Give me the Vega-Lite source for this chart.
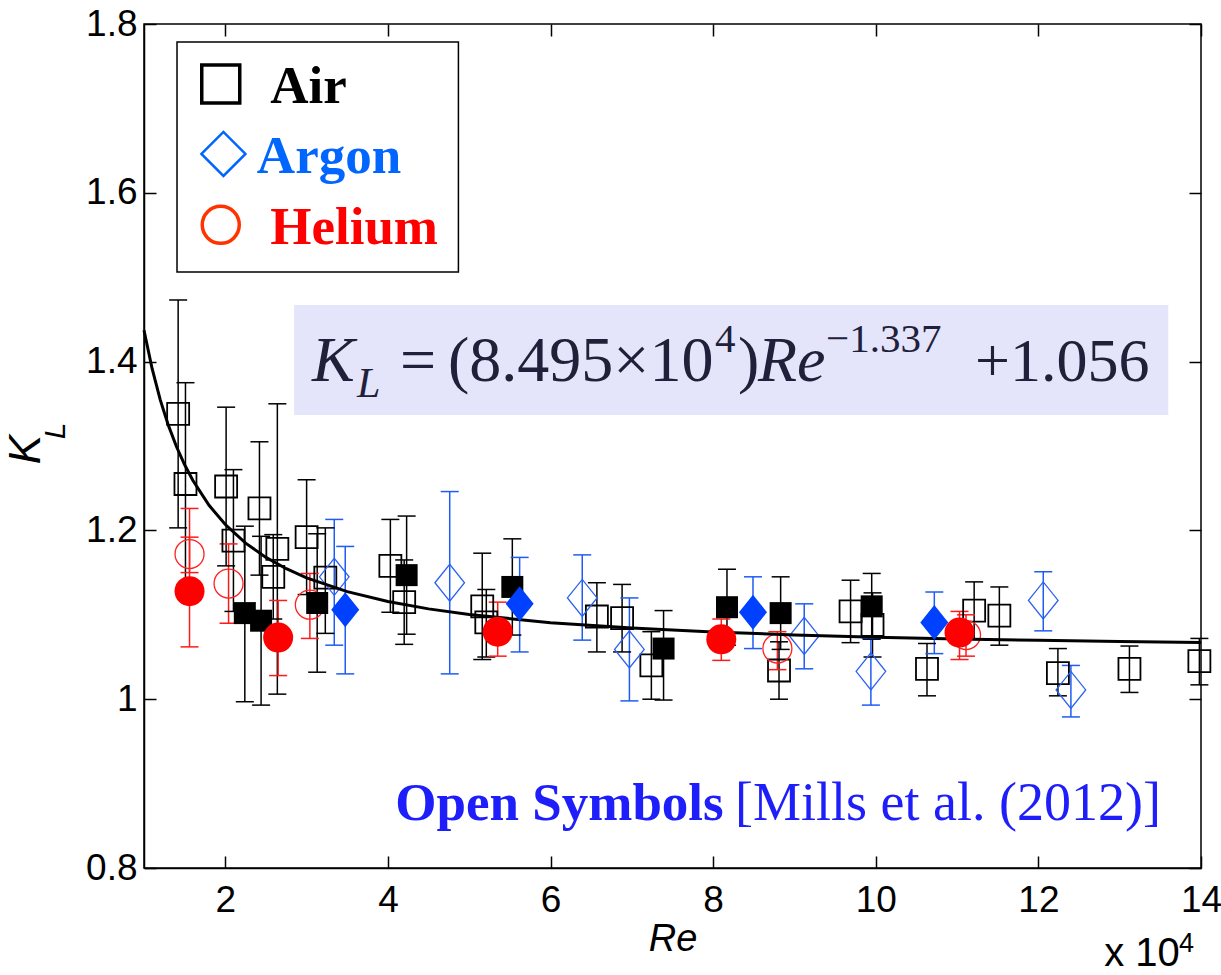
{
  "$schema": "https://vega.github.io/schema/vega-lite/v6.json",
  "autosize": {"type": "none"},
  "padding": {"left": 144, "top": 24, "right": 20, "bottom": 107},
  "width": 1057,
  "height": 844,
  "background": "white",
  "config": {
    "view": {"stroke": "black", "strokeWidth": 1.5},
    "axis": {
      "grid": false,
      "domainColor": "black",
      "domainWidth": 1.5,
      "tickColor": "black",
      "tickWidth": 1.5,
      "tickSize": -12,
      "labelFont": "Liberation Sans",
      "labelFontSize": 37,
      "labelColor": "black",
      "labelFlush": false,
      "labelOverlap": false
    }
  },
  "datasets": {
    "pts": [
      {"gas": "Air", "src": "open", "Re": 1.42, "KL": 1.338, "lo": 1.203, "hi": 1.473},
      {"gas": "Air", "src": "open", "Re": 1.51, "KL": 1.255, "lo": 1.135, "hi": 1.375},
      {"gas": "Air", "src": "open", "Re": 2.01, "KL": 1.252, "lo": 1.158, "hi": 1.346},
      {"gas": "Air", "src": "open", "Re": 2.10, "KL": 1.188, "lo": 1.104, "hi": 1.272},
      {"gas": "Air", "src": "open", "Re": 2.42, "KL": 1.226, "lo": 1.147, "hi": 1.305},
      {"gas": "Air", "src": "open", "Re": 2.64, "KL": 1.178, "lo": 1.006, "hi": 1.350},
      {"gas": "Air", "src": "open", "Re": 2.59, "KL": 1.145, "lo": 1.095, "hi": 1.195},
      {"gas": "Air", "src": "open", "Re": 3.00, "KL": 1.192, "lo": 1.124, "hi": 1.260},
      {"gas": "Air", "src": "open", "Re": 3.23, "KL": 1.144, "lo": 1.078, "hi": 1.203},
      {"gas": "Air", "src": "open", "Re": 4.03, "KL": 1.158, "lo": 1.103, "hi": 1.213},
      {"gas": "Air", "src": "open", "Re": 4.20, "KL": 1.115, "lo": 1.065, "hi": 1.165},
      {"gas": "Air", "src": "open", "Re": 5.16, "KL": 1.110, "lo": 1.047, "hi": 1.173},
      {"gas": "Air", "src": "open", "Re": 5.21, "KL": 1.091, "lo": 1.050, "hi": 1.130},
      {"gas": "Air", "src": "open", "Re": 6.57, "KL": 1.098, "lo": 1.056, "hi": 1.138},
      {"gas": "Air", "src": "open", "Re": 6.88, "KL": 1.096, "lo": 1.056, "hi": 1.136},
      {"gas": "Air", "src": "open", "Re": 7.24, "KL": 1.040, "lo": 1.000, "hi": 1.080},
      {"gas": "Air", "src": "open", "Re": 8.81, "KL": 1.034, "lo": 1.000, "hi": 1.068},
      {"gas": "Air", "src": "open", "Re": 9.69, "KL": 1.104, "lo": 1.067, "hi": 1.141},
      {"gas": "Air", "src": "open", "Re": 9.96, "KL": 1.088, "lo": 1.050, "hi": 1.126},
      {"gas": "Air", "src": "open", "Re": 10.63, "KL": 1.036, "lo": 1.004, "hi": 1.066},
      {"gas": "Air", "src": "open", "Re": 11.21, "KL": 1.105, "lo": 1.071, "hi": 1.139},
      {"gas": "Air", "src": "open", "Re": 11.52, "KL": 1.099, "lo": 1.064, "hi": 1.133},
      {"gas": "Air", "src": "open", "Re": 12.24, "KL": 1.031, "lo": 1.004, "hi": 1.060},
      {"gas": "Air", "src": "open", "Re": 13.12, "KL": 1.036, "lo": 1.008, "hi": 1.063},
      {"gas": "Air", "src": "open", "Re": 13.98, "KL": 1.045, "lo": 1.017, "hi": 1.072},
      {"gas": "Air", "src": "filled", "Re": 2.24, "KL": 1.102, "lo": 0.997, "hi": 1.205},
      {"gas": "Air", "src": "filled", "Re": 2.44, "KL": 1.093, "lo": 0.993, "hi": 1.193},
      {"gas": "Air", "src": "filled", "Re": 3.13, "KL": 1.114, "lo": 1.032, "hi": 1.196},
      {"gas": "Air", "src": "filled", "Re": 4.23, "KL": 1.147, "lo": 1.077, "hi": 1.217},
      {"gas": "Air", "src": "filled", "Re": 5.53, "KL": 1.133, "lo": 1.076, "hi": 1.190},
      {"gas": "Air", "src": "filled", "Re": 7.39, "KL": 1.060, "lo": 0.999, "hi": 1.105},
      {"gas": "Air", "src": "filled", "Re": 8.17, "KL": 1.109, "lo": 1.064, "hi": 1.154},
      {"gas": "Air", "src": "filled", "Re": 8.83, "KL": 1.102, "lo": 1.059, "hi": 1.145},
      {"gas": "Air", "src": "filled", "Re": 9.95, "KL": 1.110, "lo": 1.071, "hi": 1.149},
      {"gas": "Argon", "src": "open", "Re": 3.34, "KL": 1.145, "lo": 1.064, "hi": 1.213},
      {"gas": "Argon", "src": "open", "Re": 4.76, "KL": 1.138, "lo": 1.030, "hi": 1.246},
      {"gas": "Argon", "src": "open", "Re": 6.39, "KL": 1.120, "lo": 1.070, "hi": 1.171},
      {"gas": "Argon", "src": "open", "Re": 6.97, "KL": 1.059, "lo": 0.998, "hi": 1.120},
      {"gas": "Argon", "src": "open", "Re": 9.12, "KL": 1.075, "lo": 1.036, "hi": 1.113},
      {"gas": "Argon", "src": "open", "Re": 9.94, "KL": 1.033, "lo": 0.993, "hi": 1.072},
      {"gas": "Argon", "src": "open", "Re": 12.06, "KL": 1.117, "lo": 1.081, "hi": 1.151},
      {"gas": "Argon", "src": "open", "Re": 12.40, "KL": 1.011, "lo": 0.979, "hi": 1.040},
      {"gas": "Argon", "src": "filled", "Re": 3.475, "KL": 1.106, "lo": 1.030, "hi": 1.181},
      {"gas": "Argon", "src": "filled", "Re": 5.62, "KL": 1.113, "lo": 1.056, "hi": 1.168},
      {"gas": "Argon", "src": "filled", "Re": 8.49, "KL": 1.103, "lo": 1.060, "hi": 1.145},
      {"gas": "Argon", "src": "filled", "Re": 10.72, "KL": 1.091, "lo": 1.054, "hi": 1.127},
      {"gas": "Helium", "src": "open", "Re": 1.56, "KL": 1.172, "lo": 1.150, "hi": 1.192},
      {"gas": "Helium", "src": "open", "Re": 2.04, "KL": 1.137, "lo": 1.090, "hi": 1.184},
      {"gas": "Helium", "src": "open", "Re": 3.04, "KL": 1.112, "lo": 1.072, "hi": 1.149},
      {"gas": "Helium", "src": "open", "Re": 8.79, "KL": 1.060, "lo": 1.035, "hi": 1.080},
      {"gas": "Helium", "src": "open", "Re": 11.11, "KL": 1.076, "lo": 1.051, "hi": 1.100},
      {"gas": "Helium", "src": "filled", "Re": 1.56, "KL": 1.128, "lo": 1.062, "hi": 1.226},
      {"gas": "Helium", "src": "filled", "Re": 2.65, "KL": 1.073, "lo": 1.028, "hi": 1.117},
      {"gas": "Helium", "src": "filled", "Re": 5.35, "KL": 1.080, "lo": 1.051, "hi": 1.115},
      {"gas": "Helium", "src": "filled", "Re": 8.10, "KL": 1.071, "lo": 1.046, "hi": 1.095},
      {"gas": "Helium", "src": "filled", "Re": 11.03, "KL": 1.079, "lo": 1.047, "hi": 1.104}
    ],
    "curve": [
      {"Re": 1, "KL": 1.4372}, {"Re": 1.1, "KL": 1.3916}, {"Re": 1.2, "KL": 1.3547},
      {"Re": 1.3, "KL": 1.3244}, {"Re": 1.4, "KL": 1.2991}, {"Re": 1.5, "KL": 1.2777},
      {"Re": 1.6, "KL": 1.2594}, {"Re": 1.8, "KL": 1.2297}, {"Re": 2, "KL": 1.2069},
      {"Re": 2.25, "KL": 1.1849}, {"Re": 2.5, "KL": 1.1680}, {"Re": 2.75, "KL": 1.1546},
      {"Re": 3, "KL": 1.1438}, {"Re": 3.5, "KL": 1.1274}, {"Re": 4, "KL": 1.1157},
      {"Re": 4.5, "KL": 1.1070}, {"Re": 5, "KL": 1.1003}, {"Re": 6, "KL": 1.0907},
      {"Re": 7, "KL": 1.0843}, {"Re": 8, "KL": 1.0796}, {"Re": 9, "KL": 1.0762},
      {"Re": 10, "KL": 1.0735}, {"Re": 11, "KL": 1.0714}, {"Re": 12, "KL": 1.0697},
      {"Re": 13, "KL": 1.0684}, {"Re": 14, "KL": 1.0672}
    ]
  },
  "layer": [
    {
      "encoding": {
        "x": {"field": "Re", "type": "quantitative", "scale": {"domain": [1, 14], "nice": false, "zero": false},
          "axis": {"values": [2, 4, 6, 8, 10, 12, 14], "format": "~g", "title": "Re", "titleFont": "Liberation Sans", "titleFontStyle": "italic", "titleFontWeight": "normal", "titleFontSize": 38, "titleColor": "black", "titlePadding": 2, "labelPadding": 26}},
        "y": {"field": "KL", "type": "quantitative", "scale": {"domain": [0.8, 1.8], "nice": false, "zero": false},
          "axis": {"values": [0.8, 1, 1.2, 1.4, 1.6, 1.8], "format": "~g", "title": "K", "titleFont": "Liberation Sans", "titleFontStyle": "italic", "titleFontWeight": "normal", "titleFontSize": 44, "titleColor": "black", "titleAngle": 270, "titleAlign": "center", "titleBaseline": "middle", "titleX": -118, "titleY": 425, "labelPadding": 19}}
      },
      "layer": [
        {
          "data": {"values": [{"Re": 2.847, "Re2": 13.598, "KL": 1.4672, "KL2": 1.3368}]},
          "mark": {"type": "rect", "fill": "#e4e4fa"},
          "encoding": {"x2": {"field": "Re2"}, "y2": {"field": "KL2"}}
        },
        {
          "data": {"values": [{"Re": 1.406, "Re2": 4.867, "KL": 1.7788, "KL2": 1.5063}]},
          "mark": {"type": "rect", "fill": "white", "stroke": "black", "strokeWidth": 1.5},
          "encoding": {"x2": {"field": "Re2"}, "y2": {"field": "KL2"}}
        },
        {
          "data": {"name": "pts"},
          "mark": {"type": "rule", "strokeWidth": 1.5},
          "encoding": {
            "y": {"field": "lo", "type": "quantitative", "scale": {"domain": [0.8, 1.8], "nice": false, "zero": false}},
            "y2": {"field": "hi"},
            "color": {"field": "gas", "type": "nominal", "scale": {"domain": ["Air", "Argon", "Helium"], "range": ["#000000", "#1f5cf5", "#ff1a1a"]}, "legend": null}
          }
        },
        {
          "data": {"name": "pts"},
          "mark": {"type": "point", "shape": "M-1,0L1,0", "size": 324, "filled": false, "strokeWidth": 1.5, "opacity": 1},
          "encoding": {
            "y": {"field": "lo", "type": "quantitative", "scale": {"domain": [0.8, 1.8], "nice": false, "zero": false}},
            "color": {"field": "gas", "type": "nominal", "scale": {"domain": ["Air", "Argon", "Helium"], "range": ["#000000", "#1f5cf5", "#ff1a1a"]}, "legend": null}
          }
        },
        {
          "data": {"name": "pts"},
          "mark": {"type": "point", "shape": "M-1,0L1,0", "size": 324, "filled": false, "strokeWidth": 1.5, "opacity": 1},
          "encoding": {
            "y": {"field": "hi", "type": "quantitative", "scale": {"domain": [0.8, 1.8], "nice": false, "zero": false}},
            "color": {"field": "gas", "type": "nominal", "scale": {"domain": ["Air", "Argon", "Helium"], "range": ["#000000", "#1f5cf5", "#ff1a1a"]}, "legend": null}
          }
        },
        {
          "data": {"name": "pts"},
          "transform": [{"filter": "datum.gas == 'Air' && datum.src == 'open'"}],
          "mark": {"type": "point", "shape": "square", "size": 484, "filled": false, "stroke": "black", "strokeWidth": 1.8, "opacity": 1}
        },
        {
          "data": {"name": "pts"},
          "transform": [{"filter": "datum.gas == 'Argon' && datum.src == 'open'"}],
          "mark": {"type": "point", "shape": "M-0.8,0L0,-1L0.8,0L0,1Z", "size": 1369, "filled": false, "stroke": "#2a62f0", "strokeWidth": 1.3, "opacity": 1}
        },
        {
          "data": {"name": "pts"},
          "transform": [{"filter": "datum.gas == 'Helium' && datum.src == 'open'"}],
          "mark": {"type": "point", "shape": "circle", "size": 841, "filled": false, "stroke": "#ff2020", "strokeWidth": 1.3, "opacity": 1}
        },
        {
          "data": {"name": "curve"},
          "mark": {"type": "line", "color": "black", "strokeWidth": 3}
        },
        {
          "data": {"name": "pts"},
          "transform": [{"filter": "datum.gas == 'Air' && datum.src == 'filled'"}],
          "mark": {"type": "point", "shape": "square", "size": 484, "filled": true, "fill": "black", "opacity": 1}
        },
        {
          "data": {"name": "pts"},
          "transform": [{"filter": "datum.gas == 'Argon' && datum.src == 'filled'"}],
          "mark": {"type": "point", "shape": "M-0.8,0L0,-1L0.8,0L0,1Z", "size": 1225, "filled": true, "fill": "#0040ff", "opacity": 1}
        },
        {
          "data": {"name": "pts"},
          "transform": [{"filter": "datum.gas == 'Helium' && datum.src == 'filled'"}],
          "mark": {"type": "point", "shape": "circle", "size": 900, "filled": true, "fill": "#ff0000", "opacity": 1}
        },
        {
          "data": {"values": [{"Re": 1.944, "KL": 1.729}]},
          "mark": {"type": "point", "shape": "square", "size": 1444, "filled": false, "stroke": "black", "strokeWidth": 3.5, "opacity": 1}
        },
        {
          "data": {"values": [{"Re": 1.977, "KL": 1.646}]},
          "mark": {"type": "point", "shape": "diamond", "size": 1936, "filled": false, "stroke": "#0066ff", "strokeWidth": 2.5, "opacity": 1}
        },
        {
          "data": {"values": [{"Re": 1.944, "KL": 1.562}]},
          "mark": {"type": "point", "shape": "circle", "size": 1369, "filled": false, "stroke": "#ff3300", "strokeWidth": 3.5, "opacity": 1}
        },
        {
          "data": {"values": [{"Re": 2.552, "KL": 1.706, "label": "Air"}]},
          "mark": {"type": "text", "align": "left", "baseline": "alphabetic", "font": "Liberation Serif", "fontWeight": "bold", "fontSize": 53, "color": "black"},
          "encoding": {"text": {"field": "label"}}
        },
        {
          "data": {"values": [{"Re": 2.388, "KL": 1.6232, "label": "Argon"}]},
          "mark": {"type": "text", "align": "left", "baseline": "alphabetic", "font": "Liberation Serif", "fontWeight": "bold", "fontSize": 53, "color": "#0066ff"},
          "encoding": {"text": {"field": "label"}}
        },
        {
          "data": {"values": [{"Re": 2.552, "KL": 1.539, "label": "Helium"}]},
          "mark": {"type": "text", "align": "left", "baseline": "alphabetic", "font": "Liberation Serif", "fontWeight": "bold", "fontSize": 53, "color": "#ff0000"},
          "encoding": {"text": {"field": "label"}}
        },
        {
          "data": {"values": [{"Re": 3.066, "KL": 1.3771, "label": "K"}, {"Re": 8.551, "KL": 1.3771, "label": "Re"}]},
          "mark": {"type": "text", "align": "left", "baseline": "alphabetic", "font": "Liberation Serif", "fontStyle": "italic", "fontSize": 64, "color": "#20203a"},
          "encoding": {"text": {"field": "label"}}
        },
        {
          "data": {"values": [{"Re": 3.620, "KL": 1.3582, "label": "L"}]},
          "mark": {"type": "text", "align": "left", "baseline": "alphabetic", "font": "Liberation Serif", "fontStyle": "italic", "fontSize": 42, "color": "#20203a"},
          "encoding": {"text": {"field": "label"}}
        },
        {
          "data": {"values": [{"Re": 4.148, "KL": 1.3771, "label": "="}, {"Re": 4.739, "KL": 1.3771, "label": "(8.495×10"}, {"Re": 8.305, "KL": 1.3771, "label": ")"}]},
          "mark": {"type": "text", "align": "left", "baseline": "alphabetic", "font": "Liberation Serif", "fontSize": 64, "color": "#20203a"},
          "encoding": {"text": {"field": "label"}}
        },
        {
          "data": {"values": [{"Re": 11.22, "KL": 1.3771, "label": "+1.056"}]},
          "mark": {"type": "text", "align": "left", "baseline": "alphabetic", "font": "Liberation Serif", "fontSize": 62, "color": "#20203a"},
          "encoding": {"text": {"field": "label"}}
        },
        {
          "data": {"values": [{"Re": 8.022, "KL": 1.4115, "label": "4"}, {"Re": 9.388, "KL": 1.4115, "label": "−1.337"}]},
          "mark": {"type": "text", "align": "left", "baseline": "alphabetic", "font": "Liberation Serif", "fontSize": 41, "color": "#20203a"},
          "encoding": {"text": {"field": "label"}}
        },
        {
          "data": {"values": [{"Re": 4.091, "KL": 0.857, "label": "Open Symbols"}]},
          "mark": {"type": "text", "align": "left", "baseline": "alphabetic", "font": "Liberation Serif", "fontWeight": "bold", "fontSize": 53, "color": "#1e1efa"},
          "encoding": {"text": {"field": "label"}}
        },
        {
          "data": {"values": [{"Re": 8.269, "KL": 0.857, "label": "[Mills et al. (2012)]"}]},
          "mark": {"type": "text", "align": "left", "baseline": "alphabetic", "font": "Liberation Serif", "fontSize": 54, "color": "#1e1efa"},
          "encoding": {"text": {"field": "label"}}
        },
        {
          "data": {"values": [{"Re": -0.084, "KL": 1.318, "label": "L"}]},
          "mark": {"type": "text", "align": "center", "baseline": "middle", "angle": 270, "font": "Liberation Sans", "fontStyle": "italic", "fontSize": 30, "color": "black"},
          "encoding": {"text": {"field": "label"}}
        },
        {
          "data": {"values": [{"Re": 12.81, "KL": 0.6839, "label": "x 10"}]},
          "mark": {"type": "text", "align": "left", "baseline": "alphabetic", "font": "Liberation Sans", "fontSize": 40, "color": "black"},
          "encoding": {"text": {"field": "label"}}
        },
        {
          "data": {"values": [{"Re": 13.73, "KL": 0.7005, "label": "4"}]},
          "mark": {"type": "text", "align": "left", "baseline": "alphabetic", "font": "Liberation Sans", "fontSize": 27, "color": "black"},
          "encoding": {"text": {"field": "label"}}
        }
      ]
    },
    {
      "data": {"values": [{"Re": 5, "KL": 1.2}]},
      "mark": {"type": "point", "opacity": 0},
      "encoding": {
        "x": {"field": "Re", "type": "quantitative", "scale": {"domain": [1, 14], "nice": false, "zero": false},
          "axis": {"orient": "top", "labels": false, "title": null, "values": [2, 4, 6, 8, 10, 12, 14], "domain": false}},
        "y": {"field": "KL", "type": "quantitative", "scale": {"domain": [0.8, 1.8], "nice": false, "zero": false},
          "axis": {"orient": "right", "labels": false, "title": null, "values": [0.8, 1, 1.2, 1.4, 1.6, 1.8], "domain": false}}
      }
    }
  ],
  "resolve": {"axis": {"x": "independent", "y": "independent"}}
}
